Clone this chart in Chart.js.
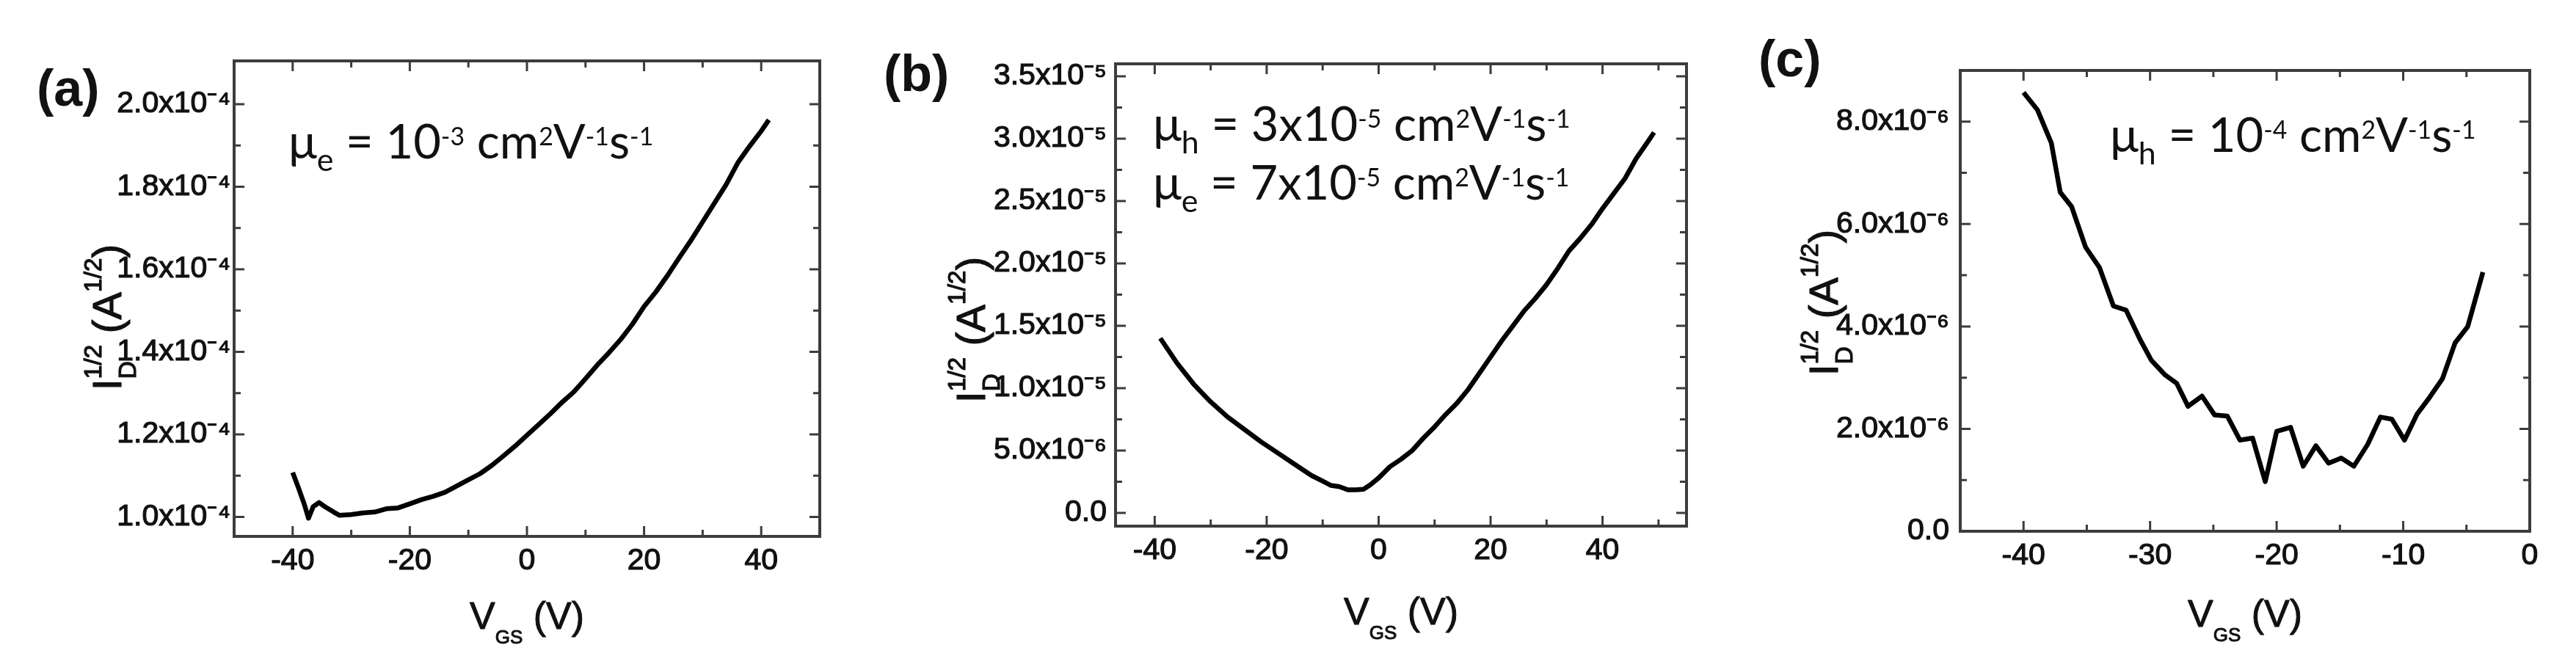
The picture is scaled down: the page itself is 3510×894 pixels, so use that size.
<!DOCTYPE html>
<html>
<head>
<meta charset="utf-8">
<script src="https://cdn.jsdelivr.net/npm/chart.js@4.4.0/dist/chart.umd.min.js"></script>
<style>
  html, body { margin: 0; padding: 0; background: #fff; }
  #wrap { position: relative; width: 3510px; height: 894px; }
  canvas { position: absolute; top: 0; }
</style>
</head>
<body>
<div id="wrap">
  <canvas id="chartA" width="1170" height="894" style="left:0px"></canvas>
  <canvas id="chartB" width="1170" height="894" style="left:1170px"></canvas>
  <canvas id="chartC" width="1170" height="894" style="left:2340px"></canvas>
</div>
<script>
// ---- panel (a): sqrt(Id) in units of 1e-4 A^1/2 ----
var aVgs = [-40, -39, -38, -37.3, -36.5, -35.5, -34.5, -33, -32, -30, -28, -26, -24, -22, -20, -18, -16, -14, -12, -10,
            -8, -6, -4, -2, 0, 2, 4, 6, 8, 10, 12, 14, 16, 18, 20, 22, 24, 26, 28, 30, 32, 34, 36, 38, 40, 41.3]
var aSqrtId = [1.108, 1.07, 1.03, 0.997, 1.025, 1.035, 1.025, 1.012, 1.004, 1.006, 1.010, 1.012, 1.020, 1.022, 1.032, 1.042, 1.050, 1.060, 1.075, 1.090,
               1.105, 1.125, 1.148, 1.172, 1.198, 1.224, 1.250, 1.278, 1.303, 1.335, 1.368, 1.398, 1.430, 1.467, 1.510, 1.545, 1.585, 1.628, 1.670, 1.715, 1.760, 1.805, 1.858, 1.898, 1.935, 1.962]
var aXTicks = [-40, -20, 0, 20, 40]
var aXTickLabels = ['-40', '-20', '0', '20', '40']
var aXMinor = [-30, -10, 10, 30]
var aYTicks = [1.0, 1.2, 1.4, 1.6, 1.8, 2.0]
var aYTickLabels = ['1.0x10\u207B\u2074', '1.2x10\u207B\u2074', '1.4x10\u207B\u2074', '1.6x10\u207B\u2074', '1.8x10\u207B\u2074', '2.0x10\u207B\u2074']
var aYMinor = [1.1, 1.3, 1.5, 1.7, 1.9]

// ---- panel (b): units of 1e-5 ----
var bVgs = [-39, -36, -33, -30, -27, -24, -21, -18, -15, -12, -10, -8.5, -7, -5.5, -4, -2.7, -1.5, 0, 2, 4, 6, 8, 10,
            12, 14, 16, 18, 20, 22, 24, 26, 28, 30, 32, 34, 36, 38, 40, 42, 44, 46, 48, 49.2]
var bSqrtId = [1.40, 1.20, 1.03, 0.89, 0.77, 0.67, 0.57, 0.48, 0.39, 0.30, 0.255, 0.22, 0.21, 0.185, 0.185, 0.19, 0.225, 0.28, 0.37, 0.43, 0.50, 0.60, 0.69,
               0.79, 0.88, 0.99, 1.12, 1.25, 1.38, 1.50, 1.62, 1.72, 1.83, 1.96, 2.10, 2.20, 2.31, 2.44, 2.56, 2.68, 2.84, 2.97, 3.05]
var bXTicks = [-40, -20, 0, 20, 40]
var bXTickLabels = ['-40', '-20', '0', '20', '40']
var bXMinor = [-30, -10, 10, 30, 50]
var bYTicks = [0, 0.5, 1.0, 1.5, 2.0, 2.5, 3.0, 3.5]
var bYTickLabels = ['0.0', '5.0x10\u207B\u2076', '1.0x10\u207B\u2075', '1.5x10\u207B\u2075', '2.0x10\u207B\u2075', '2.5x10\u207B\u2075', '3.0x10\u207B\u2075', '3.5x10\u207B\u2075']
var bYMinor = [0.25, 0.75, 1.25, 1.75, 2.25, 2.75, 3.25]

// ---- panel (c): units of 1e-6 ----
var cVgs = [-40, -38.9, -37.8, -37.1, -36.2, -35.1, -34.0, -32.9, -31.9, -30.8, -29.9, -28.8, -27.9, -27.0, -25.9, -24.9, -23.9, -22.9, -21.9,
            -20.9, -20.0, -18.9, -17.9, -16.9, -15.9, -14.9, -13.9, -12.8, -11.8, -10.9, -9.9, -8.9, -7.9, -6.9, -5.9, -4.9, -3.7]
var cSqrtId = [8.57, 8.23, 7.58, 6.62, 6.34, 5.55, 5.15, 4.40, 4.32, 3.75, 3.34, 3.05, 2.89, 2.44, 2.64, 2.27, 2.25, 1.78, 1.82,
               0.97, 1.95, 2.03, 1.27, 1.67, 1.33, 1.43, 1.27, 1.70, 2.23, 2.19, 1.78, 2.29, 2.62, 2.98, 3.68, 4.00, 5.06]
var cXTicks = [-40, -30, -20, -10, 0]
var cXTickLabels = ['-40', '-30', '-20', '-10', '0']
var cXMinor = [-35, -25, -15, -5]
var cYTicks = [0, 2, 4, 6, 8]
var cYTickLabels = ['0.0', '2.0x10\u207B\u2076', '4.0x10\u207B\u2076', '6.0x10\u207B\u2076', '8.0x10\u207B\u2076']
var cYMinor = [1, 3, 5, 7]

var AXFONT = '"Liberation Sans", Arial, sans-serif'
var NOTEFONT = 'Lato, "Open Sans", sans-serif'
var INK = '#111'
var FRAME = '#3c3c3c'

// text made of normal / sub / sup parts; a third item true keeps x for a stacked part
function richRun(ctx, parts, st, x, y, draw) {
  var cx = x, held = 0
  parts.forEach(function (p) {
    var k = p[1] || 'n'
    var size = k == 'n' ? st.F : (k == 'sub' ? st.F * st.subR : st.F * st.supR)
    var dy = k == 'n' ? 0 : (k == 'sub' ? st.subD : -st.supD)
    ctx.font = (st.weight || 'normal') + ' ' + size + 'px ' + st.fam
    var w = ctx.measureText(p[0]).width
    if (draw) {
      if (st.stroke) ctx.strokeText(p[0], cx, y + dy)
      ctx.fillText(p[0], cx, y + dy)
    }
    if (p[2]) { held = w } else { cx += Math.max(w, held); held = 0 }
  })
  return cx - x
}
function drawRich(ctx, parts, st, x, y, center) {
  ctx.textAlign = 'left'
  ctx.textBaseline = 'alphabetic'
  ctx.lineWidth = st.stroke || 0
  ctx.strokeStyle = INK
  ctx.lineJoin = 'round'
  var w = richRun(ctx, parts, st, 0, 0, false)
  richRun(ctx, parts, st, center ? x - w / 2 : x, y, true)
}

var titleStyle = { fam: AXFONT, F: 56, subR: 0.6, supR: 0.6, subD: 20, supD: 27, stroke: 1.2 }
var vgsStyle = { fam: AXFONT, F: 52, subR: 0.5, supR: 0.5, subD: 20, supD: 20, stroke: 1 }
var noteStyle = { fam: NOTEFONT, F: 65, subR: 0.66, supR: 0.52, subD: 17, supD: 18 }
var yTitle = [['I'], ['D', 'sub', true], ['1/2', 'sup'], [' (A'], ['1/2', 'sup'], [')']]
var xTitle = [['V'], ['GS', 'sub'], [' (V)']]

function decoPlugin(p) {
  return {
    id: 'deco',
    afterDraw: function (chart) {
      var ctx = chart.ctx, a = chart.chartArea, xs = chart.scales.x, ys = chart.scales.y
      ctx.save()
      ctx.strokeStyle = FRAME
      ctx.lineWidth = 3
      ctx.beginPath()
      xs.ticks.forEach(function (t) {
        var px = xs.getPixelForValue(t.value)
        var len = p.xMajor.indexOf(t.value) >= 0 ? 14 : 9
        ctx.moveTo(px, a.bottom); ctx.lineTo(px, a.bottom - len)
        ctx.moveTo(px, a.top); ctx.lineTo(px, a.top + len)
      })
      ys.ticks.forEach(function (t) {
        var py = ys.getPixelForValue(t.value)
        var len = p.yMajor.indexOf(t.value) >= 0 ? 14 : 9
        ctx.moveTo(a.left, py); ctx.lineTo(a.left + len, py)
        ctx.moveTo(a.right, py); ctx.lineTo(a.right - len, py)
      })
      ctx.stroke()
      ctx.lineWidth = 4
      ctx.strokeRect(a.left, a.top, a.right - a.left, a.bottom - a.top)

      ctx.fillStyle = INK
      ctx.font = 'bold 70px ' + AXFONT
      ctx.textAlign = 'left'
      ctx.textBaseline = 'alphabetic'
      ctx.fillText(p.letter, p.letterX, p.letterY)
      p.notes.forEach(function (n) { drawRich(ctx, n.parts, noteStyle, n.x, n.y, false) })
      drawRich(ctx, xTitle, vgsStyle, (a.left + a.right) / 2, p.xTitleY, true)
      ctx.translate(p.yTitleX, p.yTitleY)
      ctx.rotate(-Math.PI / 2)
      drawRich(ctx, yTitle, titleStyle, 0, 0, false)
      ctx.restore()
    }
  }
}

function makeChart(id, p) {
  var pts = p.xs.map(function (x, i) { return { x: x, y: p.ys[i] } })
  var tickFont = { family: AXFONT, size: 41 }
  return new Chart(document.getElementById(id), {
    type: 'line',
    data: { datasets: [{ data: pts, borderColor: '#000', borderWidth: 6.5, pointRadius: 0, tension: 0, borderJoinStyle: 'round', fill: false }] },
    options: {
      responsive: false,
      animation: false,
      devicePixelRatio: 1,
      layout: { padding: { left: 0, top: p.box[1], right: 1170 - p.box[2], bottom: 0 } },
      plugins: { legend: { display: false }, tooltip: { enabled: false } },
      scales: {
        x: {
          type: 'linear', min: p.xMin, max: p.xMax,
          grid: { display: false, drawTicks: false }, border: { display: false },
          afterBuildTicks: function (s) { s.ticks = p.xMajor.concat(p.xMinor).sort(function (m, n) { return m - n }).map(function (v) { return { value: v } }) },
          afterFit: function (s) { s.height = 894 - p.box[3]; s.paddingLeft = 0; s.paddingRight = 0 },
          ticks: {
            font: tickFont, color: INK, padding: 9, maxRotation: 0, autoSkip: false,
            textStrokeColor: INK, textStrokeWidth: 1.2,
            callback: function (v) { var i = p.xMajor.indexOf(v); return i >= 0 ? p.xLabels[i] : '' }
          }
        },
        y: {
          type: 'linear', min: p.yMin, max: p.yMax,
          grid: { display: false, drawTicks: false }, border: { display: false },
          afterBuildTicks: function (s) { s.ticks = p.yMajor.concat(p.yMinor).sort(function (m, n) { return m - n }).map(function (v) { return { value: v } }) },
          afterFit: function (s) { s.width = p.box[0]; s.paddingTop = 0; s.paddingBottom = 0 },
          ticks: {
            font: tickFont, color: INK, padding: p.yPad, autoSkip: false,
            textStrokeColor: INK, textStrokeWidth: 1.2,
            callback: function (v) { var i = p.yMajor.indexOf(v); return i >= 0 ? p.yLabels[i] : '' }
          }
        }
      }
    },
    plugins: [decoPlugin(p)]
  })
}

makeChart('chartA', {
  xs: aVgs, ys: aSqrtId, xMin: -50, xMax: 50, yMin: 0.953, yMax: 2.105,
  xMajor: aXTicks, xLabels: aXTickLabels, xMinor: aXMinor,
  yMajor: aYTicks, yLabels: aYTickLabels, yMinor: aYMinor,
  box: [319, 83, 1117, 731], yPad: 5,
  letter: '(a)', letterX: 50, letterY: 144,
  xTitleY: 857, yTitleX: 165, yTitleY: 532,
  notes: [{ x: 393, y: 216, parts: [['\u03BC'], ['e', 'sub'], [' = 10'], ['-3', 'sup'], [' cm'], ['2', 'sup'], ['V'], ['-1', 'sup'], ['s'], ['-1', 'sup']] }]
})

makeChart('chartB', {
  xs: bVgs, ys: bSqrtId, xMin: -47, xMax: 55, yMin: -0.106, yMax: 3.6,
  xMajor: bXTicks, xLabels: bXTickLabels, xMinor: bXMinor,
  yMajor: bYTicks, yLabels: bYTickLabels, yMinor: bYMinor,
  box: [350, 87, 1128, 717], yPad: 12,
  letter: '(b)', letterX: 34, letterY: 124,
  xTitleY: 851, yTitleX: 172, yTitleY: 549,
  notes: [
    { x: 401, y: 192, parts: [['\u03BC'], ['h', 'sub'], [' = 3x10'], ['-5', 'sup'], [' cm'], ['2', 'sup'], ['V'], ['-1', 'sup'], ['s'], ['-1', 'sup']] },
    { x: 401, y: 272, parts: [['\u03BC'], ['e', 'sub'], [' = 7x10'], ['-5', 'sup'], [' cm'], ['2', 'sup'], ['V'], ['-1', 'sup'], ['s'], ['-1', 'sup']] }
  ]
})

makeChart('chartC', {
  xs: cVgs, ys: cSqrtId, xMin: -45, xMax: 0, yMin: 0, yMax: 9,
  xMajor: cXTicks, xLabels: cXTickLabels, xMinor: cXMinor,
  yMajor: cYTicks, yLabels: cYTickLabels, yMinor: cYMinor,
  box: [331, 96, 1107, 724], yPad: 15,
  letter: '(c)', letterX: 56, letterY: 104,
  xTitleY: 854, yTitleX: 164, yTitleY: 512,
  notes: [{ x: 535, y: 207, parts: [['\u03BC'], ['h', 'sub'], [' = 10'], ['-4', 'sup'], [' cm'], ['2', 'sup'], ['V'], ['-1', 'sup'], ['s'], ['-1', 'sup']] }]
})
</script>
</body>
</html>
